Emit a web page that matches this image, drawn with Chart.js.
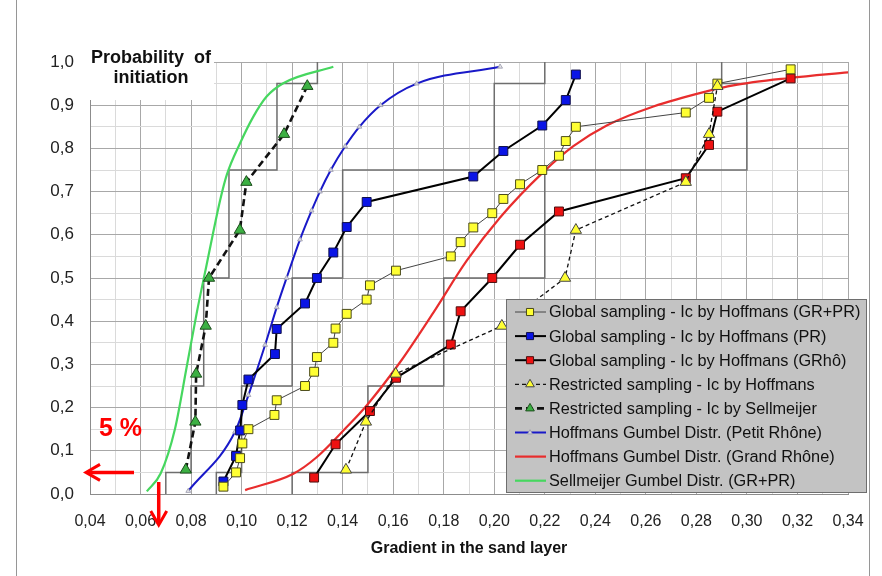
<!DOCTYPE html>
<html>
<head>
<meta charset="utf-8">
<script src="https://cdn.jsdelivr.net/npm/chart.js@4.4.0/dist/chart.umd.min.js"></script>
<style>
  html, body { margin: 0; padding: 0; background: #fff; }
  #wrap { width: 882px; height: 576px; }
</style>
</head>
<body>
<div id="wrap"><canvas id="myChart" width="882" height="576"></canvas></div>
<script>
// Axis ranges
var xMin = 0.04, xMax = 0.34;
var yMin = 0.0, yMax = 1.0;

// Global sampling - Ic by Hoffmans (GR+PR)
var globalAllX = [0.0928, 0.0978, 0.0994, 0.1003, 0.1027, 0.1130, 0.1139, 0.1251, 0.1287, 0.1298,
                  0.1363, 0.1372, 0.1416, 0.1495, 0.1508, 0.1611, 0.1828, 0.1867, 0.1917, 0.1992,
                  0.2036, 0.2102, 0.2190, 0.2256, 0.2283, 0.2323, 0.2758, 0.2850, 0.2883, 0.3173];
var globalAllP = [0.017, 0.050, 0.083, 0.117, 0.150, 0.183, 0.217, 0.250, 0.283, 0.317,
                  0.350, 0.383, 0.417, 0.450, 0.483, 0.517, 0.550, 0.583, 0.617, 0.650,
                  0.683, 0.717, 0.750, 0.783, 0.817, 0.850, 0.883, 0.917, 0.950, 0.983];

// Global sampling - Ic by Hoffmans (PR)
var globalPrX = [0.0928, 0.0978, 0.0994, 0.1003, 0.1027, 0.1132, 0.1139, 0.1251, 0.1298,
                 0.1363, 0.1416, 0.1495, 0.1917, 0.2036, 0.2190, 0.2283, 0.2323];
var globalPrP = [0.029, 0.088, 0.147, 0.206, 0.265, 0.324, 0.382, 0.441, 0.500,
                 0.559, 0.618, 0.676, 0.735, 0.794, 0.853, 0.912, 0.971];

// Global sampling - Ic by Hoffmans (GRhô)
var globalGrX = [0.1287, 0.1372, 0.1508, 0.1611, 0.1828, 0.1867, 0.1992, 0.2102, 0.2256,
                 0.2758, 0.2850, 0.2883, 0.3173];
var globalGrP = [0.038, 0.115, 0.192, 0.269, 0.346, 0.423, 0.500, 0.577, 0.654,
                 0.731, 0.808, 0.885, 0.962];

// Restricted sampling - Ic by Hoffmans
var restrHofX = [0.1413, 0.1492, 0.1610, 0.2030, 0.2280, 0.2323, 0.2758, 0.2850, 0.2883];
var restrHofP = [0.056, 0.167, 0.278, 0.389, 0.500, 0.611, 0.722, 0.833, 0.944];

// Restricted sampling - Ic by Sellmeijer
var restrSelX = [0.0779, 0.0817, 0.0820, 0.0858, 0.0871, 0.0993, 0.1019, 0.1168, 0.1260];
var restrSelP = [0.056, 0.167, 0.278, 0.389, 0.500, 0.611, 0.722, 0.833, 0.944];

// Hoffmans Gumbel Distr. (Petit Rhône)
var gumbPrX = [0.0789, 0.0974, 0.1027, 0.1093, 0.1139, 0.1178, 0.1231, 0.1277, 0.1310,
               0.1353, 0.1410, 0.1466, 0.1550, 0.1693, 0.2023];
var gumbPrP = [0.007, 0.144, 0.229, 0.345, 0.432, 0.500, 0.589, 0.656, 0.700,
               0.750, 0.805, 0.850, 0.900, 0.950, 0.989];

// Hoffmans Gumbel Distr. (Grand Rhône)
var gumbGrX = [0.1014, 0.1205, 0.1297, 0.1416, 0.1495, 0.1627, 0.1759, 0.1891, 0.2023, 0.2194,
               0.2313, 0.2445, 0.2630, 0.2840, 0.2946, 0.3170, 0.3401];
var gumbGrP = [0.009, 0.047, 0.085, 0.155, 0.205, 0.305, 0.420, 0.540, 0.640, 0.745,
               0.805, 0.853, 0.897, 0.932, 0.946, 0.963, 0.976];

// Sellmeijer Gumbel Distr. (GR+PR)
var gumbSelX = [0.0625, 0.0680, 0.0736, 0.0783, 0.0822, 0.0862, 0.0885, 0.0915, 0.0941,
                0.0994, 0.1046, 0.1099, 0.1165, 0.1363];
var gumbSelP = [0.006, 0.048, 0.150, 0.295, 0.418, 0.532, 0.598, 0.680, 0.738,
                0.812, 0.873, 0.920, 0.951, 0.989];

// grey step outlines (class limits)
var stepP    = [0, 0.05, 0.05, 0.25, 0.25, 0.50, 0.50, 0.75, 0.75, 0.95, 0.95, 1.00];
var stepSelX = [0.070, 0.070, 0.080, 0.080, 0.085, 0.085, 0.095, 0.095, 0.114, 0.114, 0.130, 0.130];
var stepPrX  = [0.090, 0.090, 0.100, 0.100, 0.120, 0.120, 0.140, 0.140, 0.200, 0.200, 0.220, 0.220];
var stepGrX  = [0.120, 0.120, 0.150, 0.150, 0.180, 0.180, 0.220, 0.220, 0.300, 0.300, 0.290, 0.290];

// 5 % threshold annotation
var thresholdP = 0.05;
var thresholdX = 0.0672;

var FONT = "'Liberation Sans', Arial, sans-serif";
var GRID_MAJOR = 'rgb(168,168,168)';
var GRID_MINOR = 'rgb(218,218,218)';

function pts(xs, ys) {
    var out = [];
    for (var i = 0; i < xs.length; i++) {
        out.push({x: xs[i], y: ys[i]});
    }
    return out;
}

function comma(v, d) {
    return v.toFixed(d).replace('.', ',');
}

function stepSet(xs) {
    return {
        label: '', data: pts(xs, stepP), showLine: true,
        borderColor: 'rgb(110,110,110)', borderWidth: 1.5, pointRadius: 0
    };
}

// datasets: lower index is drawn on top
var datasets = [
    {
        label: 'Restricted sampling - Ic by Hoffmans', data: pts(restrHofX, restrHofP), showLine: true,
        borderColor: '#111', borderWidth: 1.3, borderDash: [4, 3],
        pointStyle: 'triangle', pointRadius: 6.5, pointBackgroundColor: '#ffff33',
        pointBorderColor: '#444', pointBorderWidth: 1
    },
    {
        label: 'Restricted sampling - Ic by Sellmeijer', data: pts(restrSelX, restrSelP), showLine: true,
        borderColor: '#111', borderWidth: 2.6, borderDash: [7, 4],
        pointStyle: 'triangle', pointRadius: 6.5, pointBackgroundColor: '#3cb043',
        pointBorderColor: '#1d4d1d', pointBorderWidth: 1
    },
    {
        label: 'Global sampling - Ic by Hoffmans (GR+PR)', data: pts(globalAllX, globalAllP), showLine: true,
        borderColor: '#444', borderWidth: 1,
        pointStyle: 'rect', pointRadius: 6.3, pointBackgroundColor: '#ffff33',
        pointBorderColor: '#4a4a1a', pointBorderWidth: 1
    },
    {
        label: 'Global sampling - Ic by Hoffmans (PR)', data: pts(globalPrX, globalPrP), showLine: true,
        borderColor: '#000', borderWidth: 2,
        pointStyle: 'rect', pointRadius: 6.3, pointBackgroundColor: '#0a14e6',
        pointBorderColor: '#10104a', pointBorderWidth: 1
    },
    {
        label: 'Global sampling - Ic by Hoffmans (GRhô)', data: pts(globalGrX, globalGrP), showLine: true,
        borderColor: '#000', borderWidth: 2,
        pointStyle: 'rect', pointRadius: 6.3, pointBackgroundColor: '#ee1111',
        pointBorderColor: '#4a1010', pointBorderWidth: 1
    },
    {
        label: 'Hoffmans Gumbel Distr. (Petit Rhône)', data: pts(gumbPrX, gumbPrP), showLine: true,
        borderColor: 'rgb(25,25,200)', borderWidth: 2, cubicInterpolationMode: 'monotone',
        pointStyle: 'triangle', pointRadius: 2.8, pointBackgroundColor: 'rgba(230,230,230,0.9)',
        pointBorderColor: 'rgb(150,150,170)', pointBorderWidth: 0.8
    },
    {
        label: 'Hoffmans Gumbel Distr. (Grand Rhône)', data: pts(gumbGrX, gumbGrP), showLine: true,
        borderColor: 'rgb(232,45,45)', borderWidth: 2.2, cubicInterpolationMode: 'monotone',
        pointRadius: 0
    },
    {
        label: 'Sellmeijer Gumbel Distr. (GR+PR)', data: pts(gumbSelX, gumbSelP), showLine: true,
        borderColor: 'rgb(70,215,95)', borderWidth: 2.2, cubicInterpolationMode: 'monotone',
        pointRadius: 0
    },
    stepSet(stepSelX),
    stepSet(stepPrX),
    stepSet(stepGrX)
];

// order of the entries in the legend box
var legendOrder = [2, 3, 4, 0, 1, 5, 6, 7];

var framePlugin = {
    id: 'frame',
    beforeDraw: function(chart) {
        var ctx = chart.ctx;
        ctx.save();
        ctx.fillStyle = '#fff';
        ctx.fillRect(0, 0, chart.width, chart.height);
        ctx.strokeStyle = 'rgb(150,150,150)';
        ctx.lineWidth = 1;
        ctx.beginPath();
        ctx.moveTo(16.5, 0);
        ctx.lineTo(16.5, chart.height);
        ctx.moveTo(869.5, 0);
        ctx.lineTo(869.5, chart.height);
        ctx.stroke();
        ctx.restore();
    }
};

var overlayPlugin = {
    id: 'overlay',
    afterDraw: function(chart) {
        var ctx = chart.ctx;
        var area = chart.chartArea;
        var xs = chart.scales.x, ys = chart.scales.y;
        ctx.save();

        // y axis heading in a white box over the grid
        ctx.fillStyle = '#fff';
        ctx.fillRect(area.left - 4, area.top - 18, 128, 56);
        ctx.fillStyle = '#111';
        ctx.font = 'bold 18px ' + FONT;
        ctx.textAlign = 'center';
        ctx.textBaseline = 'middle';
        ctx.fillText('Probability  of', area.left + 61, area.top - 4);
        ctx.fillText('initiation', area.left + 61, area.top + 16);

        // 5 % annotation
        var yT = ys.getPixelForValue(thresholdP);
        var xT = xs.getPixelForValue(thresholdX);
        ctx.strokeStyle = '#ff0000';
        ctx.fillStyle = '#ff0000';
        ctx.lineWidth = 3.5;
        ctx.beginPath();
        ctx.moveTo(area.left + 44, yT);
        ctx.lineTo(area.left - 2, yT);
        ctx.moveTo(xT, area.bottom - 12);
        ctx.lineTo(xT, area.bottom + 28);
        ctx.stroke();
        ctx.lineWidth = 3;
        ctx.lineJoin = 'miter';
        ctx.beginPath();
        ctx.moveTo(area.left + 10, yT - 8);
        ctx.lineTo(area.left - 4, yT);
        ctx.lineTo(area.left + 10, yT + 8);
        ctx.moveTo(xT - 8, area.bottom + 17);
        ctx.lineTo(xT, area.bottom + 31);
        ctx.lineTo(xT + 8, area.bottom + 17);
        ctx.stroke();
        ctx.font = 'bold 25px ' + FONT;
        ctx.textAlign = 'left';
        ctx.textBaseline = 'middle';
        ctx.fillText('5 %', area.left + 9, ys.getPixelForValue(0.15));

        // legend box
        var lx = area.right - 342, ly = area.bottom - 195, lw = 360, lh = 193;
        ctx.fillStyle = 'rgb(195,195,195)';
        ctx.fillRect(lx, ly, lw, lh);
        ctx.strokeStyle = 'rgb(110,110,110)';
        ctx.lineWidth = 1;
        ctx.strokeRect(lx + 0.5, ly + 0.5, lw, lh);

        for (var i = 0; i < legendOrder.length; i++) {
            var ds = datasets[legendOrder[i]];
            var rowY = ly + 13 + i * 24.1;
            ctx.save();
            ctx.strokeStyle = ds.borderColor;
            ctx.lineWidth = ds.borderWidth;
            ctx.setLineDash(ds.borderDash || []);
            ctx.beginPath();
            ctx.moveTo(lx + 9, rowY);
            ctx.lineTo(lx + 40, rowY);
            ctx.stroke();
            ctx.setLineDash([]);
            if (ds.pointRadius > 0) {
                ctx.fillStyle = ds.pointBackgroundColor;
                ctx.strokeStyle = ds.pointBorderColor;
                ctx.lineWidth = ds.pointBorderWidth;
                var r = ds.pointRadius > 4 ? 5 : ds.pointRadius;
                Chart.helpers.drawPoint(ctx, {pointStyle: ds.pointStyle, radius: r, rotation: 0,
                    borderWidth: ds.pointBorderWidth}, lx + 24, rowY);
            }
            ctx.restore();
            ctx.fillStyle = '#111';
            ctx.font = '16.3px ' + FONT;
            ctx.textAlign = 'left';
            ctx.textBaseline = 'middle';
            ctx.fillText(ds.label, lx + 43, rowY + 1);
        }
        ctx.restore();
    }
};

function isMajorX(v) {
    return Math.round(v * 100) % 2 === 0;
}

function isMajorY(v) {
    return Math.round(v * 100) % 10 === 0;
}

var myChart = new Chart(document.getElementById('myChart'), {
    type: 'scatter',
    data: { datasets: datasets },
    options: {
        responsive: false,
        animation: false,
        devicePixelRatio: 1,
        layout: { padding: { top: 62, right: 34, left: 0, bottom: 0 } },
        plugins: {
            legend: { display: false },
            tooltip: { enabled: false }
        },
        elements: { line: { tension: 0 } },
        scales: {
            x: {
                type: 'linear', min: xMin, max: xMax,
                afterFit: function(scale) { scale.height = 82; },
                ticks: {
                    stepSize: 0.01, autoSkip: false, maxRotation: 0, padding: 18,
                    color: '#222', font: { family: FONT, size: 16 },
                    callback: function(v) { return isMajorX(v) ? comma(v, 2) : ''; }
                },
                grid: {
                    drawTicks: false,
                    color: function(c) { return c.tick && isMajorX(c.tick.value) ? GRID_MAJOR : GRID_MINOR; }
                },
                border: { color: 'rgb(140,140,140)' },
                title: {
                    display: true, text: 'Gradient in the sand layer', color: '#111',
                    font: { family: FONT, size: 16, weight: 'bold' },
                    padding: { top: 0, bottom: 18 }
                }
            },
            y: {
                type: 'linear', min: yMin, max: yMax,
                afterFit: function(scale) { scale.width = 90; },
                ticks: {
                    stepSize: 0.05, autoSkip: false, padding: 16,
                    color: '#222', font: { family: FONT, size: 17 },
                    callback: function(v) { return isMajorY(v) ? comma(v, 1) : ''; }
                },
                grid: {
                    drawTicks: false,
                    color: function(c) { return c.tick && isMajorY(c.tick.value) ? GRID_MAJOR : GRID_MINOR; }
                },
                border: { color: 'rgb(140,140,140)' }
            }
        }
    },
    plugins: [framePlugin, overlayPlugin]
});
</script>
</body>
</html>
